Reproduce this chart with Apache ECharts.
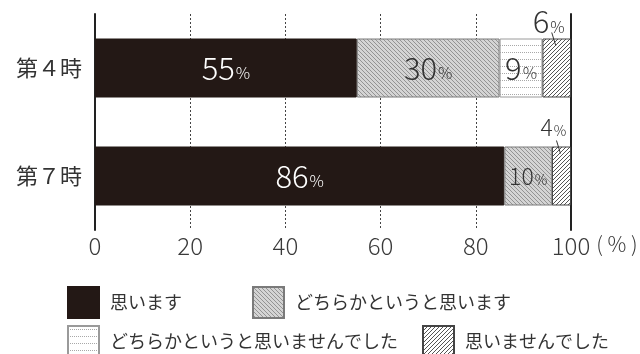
<!DOCTYPE html>
<html>
<head>
<meta charset="utf-8">
<script src="https://cdn.jsdelivr.net/npm/echarts@6/dist/echarts.min.js"></script>
<style>
  html, body { margin: 0; padding: 0; background: #fff; }
  #chart { width: 640px; height: 354px; }
</style>
</head>
<body>
<div id="chart"></div>
<script>
const categories = ['第４時', '第７時'];
const think = [55, 86];
const ratherThink = [30, 10];
const ratherNot = [9, 0];
const notThink = [6, 4];
const xTicks = [0, 20, 40, 60, 80, 100];

const FONT = '"Noto Sans CJK JP", "Noto Sans", sans-serif';
const BAR_H = 59;

// small repeating tiles for the print-style fills
function tile(w, h, bg, dots) {
  const c = document.createElement('canvas');
  c.width = w; c.height = h;
  const ctx = c.getContext('2d');
  ctx.fillStyle = bg;
  ctx.fillRect(0, 0, w, h);
  for (let x = 0; x < w; x++) {
    for (let y = 0; y < h; y++) {
      const col = dots(x, y);
      if (col) { ctx.fillStyle = col; ctx.fillRect(x, y, 1, 1); }
    }
  }
  return { image: c, repeat: 'repeat' };
}
const grayFill = tile(4, 4, '#d4d4d4', (x, y) => ((x - y + 4) % 4 === 0 ? '#939393' : null));
const dotFill = tile(4, 7, '#ffffff', (x, y) => (y === 3 && x % 2 === 0 ? '#a8a8a8' : null));
const hatchFill = tile(4, 4, '#ffffff', (x, y) => ((x + y) % 4 === 0 ? '#555555' : null));

const rich = {
  n: { fontSize: 31, fontFamily: FONT, fontWeight: 300, lineHeight: 36 },
  p: { fontSize: 16, fontFamily: FONT, fontWeight: 300, lineHeight: 36, padding: [10, 0, 0, 1] },
  sn: { fontSize: 23, fontFamily: FONT, fontWeight: 300, lineHeight: 30 },
  sp: { fontSize: 14, fontFamily: FONT, fontWeight: 300, lineHeight: 30, padding: [7, 0, 0, 1] }
};

function insideLabel(p) {
  if (!p.value) return '';
  const small = p.value >= 10 && p.value < 15;
  return small ? '{sn|' + p.value + '}{sp|%}' : '{n|' + p.value + '}{p|%}';
}

function barSeries(name, data, fill, border, textColor, labelShow) {
  return {
    name: name,
    type: 'bar',
    stack: 'total',
    data: data,
    barWidth: BAR_H,
    itemStyle: { color: fill, borderColor: border, borderWidth: 1 },
    label: {
      show: labelShow,
      position: 'inside',
      color: textColor,
      formatter: insideLabel,
      rich: rich
    },
    emphasis: { disabled: true }
  };
}

const totals = categories.map((c, i) => think[i] + ratherThink[i] + ratherNot[i] + notThink[i]);
const outsideData = notThink.map((v, i) => [i, v, totals[i]]);

const chart = echarts.init(document.getElementById('chart'), null, { renderer: 'canvas' });
chart.setOption({
  animation: false,
  grid: { left: 95, width: 476, top: 14, height: 216, outerBoundsMode: 'none', containLabel: false },
  xAxis: {
    type: 'value',
    min: 0,
    max: 100,
    interval: 20,
    axisLine: { show: false },
    axisTick: { show: false },
    splitLine: { show: true, lineStyle: { color: '#444', width: 1, type: [2, 2] } },
    axisLabel: {
      margin: 4,
      color: '#3a3a3a',
      fontSize: 24,
      fontFamily: FONT,
      fontWeight: 300,
      formatter: v => (xTicks.indexOf(v) >= 0 ? String(v) : '')
    },
    name: '( % )',
    nameLocation: 'end',
    nameGap: 20,
    nameTextStyle: { color: '#3a3a3a', fontSize: 21, fontFamily: FONT, fontWeight: 300, verticalAlign: 'top', padding: [4, 0, 0, 0] }
  },
  yAxis: [
    {
      type: 'category',
      inverse: true,
      data: categories,
      axisLine: { show: true, lineStyle: { color: '#222', width: 2 } },
      axisTick: { show: false },
      axisLabel: { margin: 13, color: '#333', fontSize: 22, fontFamily: FONT }
    },
    {
      type: 'category',
      inverse: true,
      position: 'right',
      data: categories,
      axisLine: { show: true, lineStyle: { color: '#222', width: 2 } },
      axisTick: { show: false },
      axisLabel: { show: false }
    }
  ],
  legend: [
    {
      data: ['思います', 'どちらかというと思います'],
      left: 62, top: 281,
      icon: 'rect',
      itemWidth: 31, itemHeight: 31, itemGap: 70,
      selectedMode: false,
      textStyle: { color: '#333', fontSize: 18, fontFamily: FONT, padding: [0, 0, 0, 6] }
    },
    {
      data: ['どちらかというと思いませんでした', '思いませんでした'],
      left: 62, top: 320,
      icon: 'rect',
      itemWidth: 31, itemHeight: 31, itemGap: 24,
      selectedMode: false,
      textStyle: { color: '#333', fontSize: 18, fontFamily: FONT, padding: [0, 0, 0, 6] }
    }
  ],
  series: [
    barSeries('思います', think, '#231815', '#231815', '#ffffff', true),
    barSeries('どちらかというと思います', ratherThink, grayFill, '#7a7a7a', '#333', true),
    barSeries('どちらかというと思いませんでした', ratherNot, dotFill, '#9a9a9a', '#333', true),
    barSeries('思いませんでした', notThink, hatchFill, '#444', '#333', false),
    {
      type: 'custom',
      data: outsideData,
      encode: { x: 2, y: 0 },
      z: 5,
      silent: true,
      renderItem: function (params, api) {
        const cat = api.value(0);
        const v = api.value(1);
        const end = api.value(2);
        const pt = api.coord([end - v / 2, cat]);
        const top = pt[1] - BAR_H / 2;
        const small = v < 5;
        return {
          type: 'group',
          children: [
            {
              type: 'text',
              style: {
                text: small ? '{sn|' + v + '}{sp|%}' : '{n|' + v + '}{p|%}',
                rich: rich,
                x: pt[0] - 8,
                y: top - (small ? 19 : 17),
                align: 'center',
                verticalAlign: 'middle',
                fill: '#333'
              }
            },
            {
              type: 'line',
              shape: { x1: pt[0] - 5, y1: top - 6, x2: pt[0] - 1, y2: top + 7 },
              style: { stroke: '#333', lineWidth: 1 }
            }
          ]
        };
      }
    }
  ]
});
</script>
</body>
</html>
